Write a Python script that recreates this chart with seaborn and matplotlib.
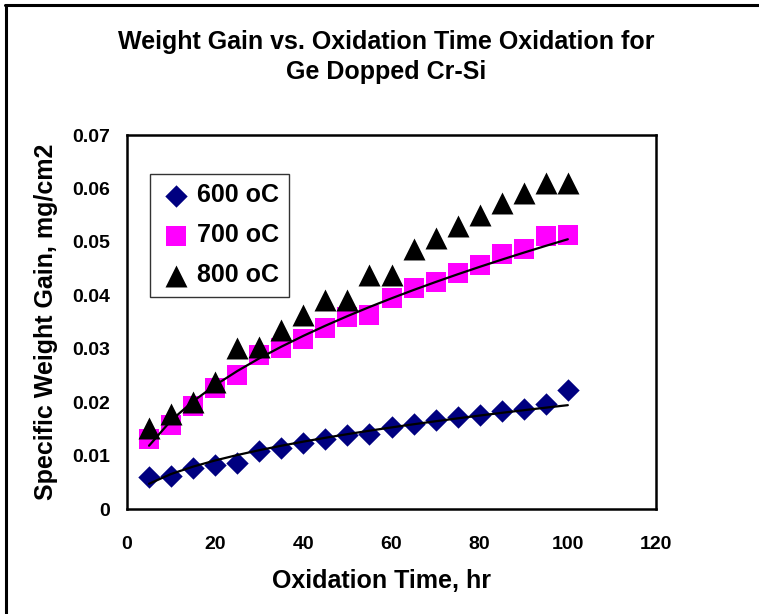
import numpy as np
import pandas as pd
import matplotlib
matplotlib.use("Agg")
import matplotlib.pyplot as plt
import seaborn as sns
from matplotlib.lines import Line2D

# ---- data ----
time_hr = [5, 10, 15, 20, 25, 30, 35, 40, 45, 50, 55, 60, 65, 70, 75, 80, 85, 90, 95, 100]
gain_600 = [0.0059, 0.0062, 0.0076, 0.0082, 0.0087, 0.0109, 0.0115, 0.0124, 0.0131, 0.0138,
            0.0140, 0.0153, 0.0159, 0.0167, 0.0173, 0.0176, 0.0184, 0.0188, 0.0197, 0.0223]
gain_700 = [0.0131, 0.0157, 0.0193, 0.0227, 0.0251, 0.0288, 0.0301, 0.0319, 0.0338, 0.0360,
            0.0363, 0.0394, 0.0413, 0.0425, 0.0441, 0.0457, 0.0477, 0.0486, 0.0511, 0.0513]
gain_800 = [0.0151, 0.0178, 0.0201, 0.0238, 0.0301, 0.0303, 0.0335, 0.0363, 0.0391, 0.0391,
            0.0438, 0.0438, 0.0486, 0.0507, 0.0530, 0.0550, 0.0572, 0.0592, 0.0610, 0.0610]
series_labels = ["600 oC", "700 oC", "800 oC"]
x_ticks = [0, 20, 40, 60, 80, 100, 120]
y_ticks = [0, 0.01, 0.02, 0.03, 0.04, 0.05, 0.06, 0.07]
y_tick_labels = ["0", "0.01", "0.02", "0.03", "0.04", "0.05", "0.06", "0.07"]

sns.set_style("white")
plt.rcParams["font.family"] = ["Liberation Sans", "DejaVu Sans"]
plt.rcParams["font.weight"] = "bold"
plt.rcParams["text.color"] = "black"
plt.rcParams["axes.labelcolor"] = "black"
plt.rcParams["xtick.color"] = "black"
plt.rcParams["ytick.color"] = "black"

W, H = 759, 614
fig = plt.figure(figsize=(W / 100, H / 100), dpi=100)
ax = fig.add_axes([127 / W, 1 - 509 / H, (656 - 127) / W, (509 - 135) / H])

t = np.array(time_hr, dtype=float)

def power_fit(x, y):
    b, ln_a = np.polyfit(np.log(x), np.log(y), 1)
    return np.exp(ln_a) * x ** b

styles = [
    (gain_600, "D", "#000080", 130),
    (gain_700, "s", "#FF00FF", 215),
    (gain_800, "^", "#000000", 250),
]
for (vals, mk, col, sz), lab in zip(styles, series_labels):
    sns.scatterplot(x=time_hr, y=vals, marker=mk, color=col, s=sz, linewidth=0,
                    label=lab, ax=ax, zorder=3)

# power trend lines for 600 and 700 oC
for vals in (gain_600, gain_700):
    fit = power_fit(t, np.array(vals))
    sns.lineplot(x=t, y=fit, color="black", linewidth=1.6, ax=ax, zorder=4,
                 legend=False)

ax.set_xlim(0, 120)
ax.set_ylim(0, 0.07)
ax.set_xticks(x_ticks)
ax.set_xticklabels([str(v) for v in x_ticks])
ax.set_yticks(y_ticks)
ax.set_yticklabels(y_tick_labels)
for s in ax.spines.values():
    s.set_visible(True)
    s.set_color("black")
    s.set_linewidth(1.8)
ax.tick_params(axis="both", direction="out", length=5.5, width=1.8, color="black",
               labelsize=14, labelcolor="black")
ax.tick_params(axis="x", pad=14)
ax.tick_params(axis="y", pad=7)
for lbl in ax.get_xticklabels() + ax.get_yticklabels():
    lbl.set_fontweight("bold")

ax.set_xlabel("Oxidation Time, hr", fontsize=18, fontweight="bold", color="black")
ax.set_ylabel("Specific Weight Gain, mg/cm2", fontsize=18, fontweight="bold", color="black")
ax.xaxis.label.set_va("center")
ax.yaxis.label.set_va("center")
ax.xaxis.set_label_coords((381 - 127) / 529, (509 - 581) / 374)
ax.yaxis.set_label_coords((46 - 127) / 529, (509 - 322) / 374)

leg = ax.legend(loc="upper left", bbox_to_anchor=((150 - 127) / 529, (509 - 174) / 374),
                borderaxespad=0, frameon=True, fancybox=False, edgecolor="black",
                prop={"size": 18, "weight": "bold"}, handlelength=1.3, handletextpad=0.2,
                labelspacing=0.64, borderpad=0.38, markerscale=1.0)
leg.get_frame().set_linewidth(1.0)
for txt in leg.get_texts():
    txt.set_color("black")

fig.text(386 / W, 1 - 57 / H, "Weight Gain vs. Oxidation Time Oxidation for\nGe Dopped Cr-Si",
         ha="center", va="center", fontsize=18, fontweight="bold", linespacing=1.3,
         color="black")

# outer chart-area border (top and left visible in the reference)
fig.add_artist(Line2D([5 / W, 1.0], [1 - 4.5 / H, 1 - 4.5 / H], transform=fig.transFigure,
                      color="black", linewidth=2.2))
fig.add_artist(Line2D([5.5 / W, 5.5 / W], [0, 1 - 4.5 / H], transform=fig.transFigure,
                      color="black", linewidth=2.2))

fig.savefig("out.png", dpi=100, facecolor="white")
